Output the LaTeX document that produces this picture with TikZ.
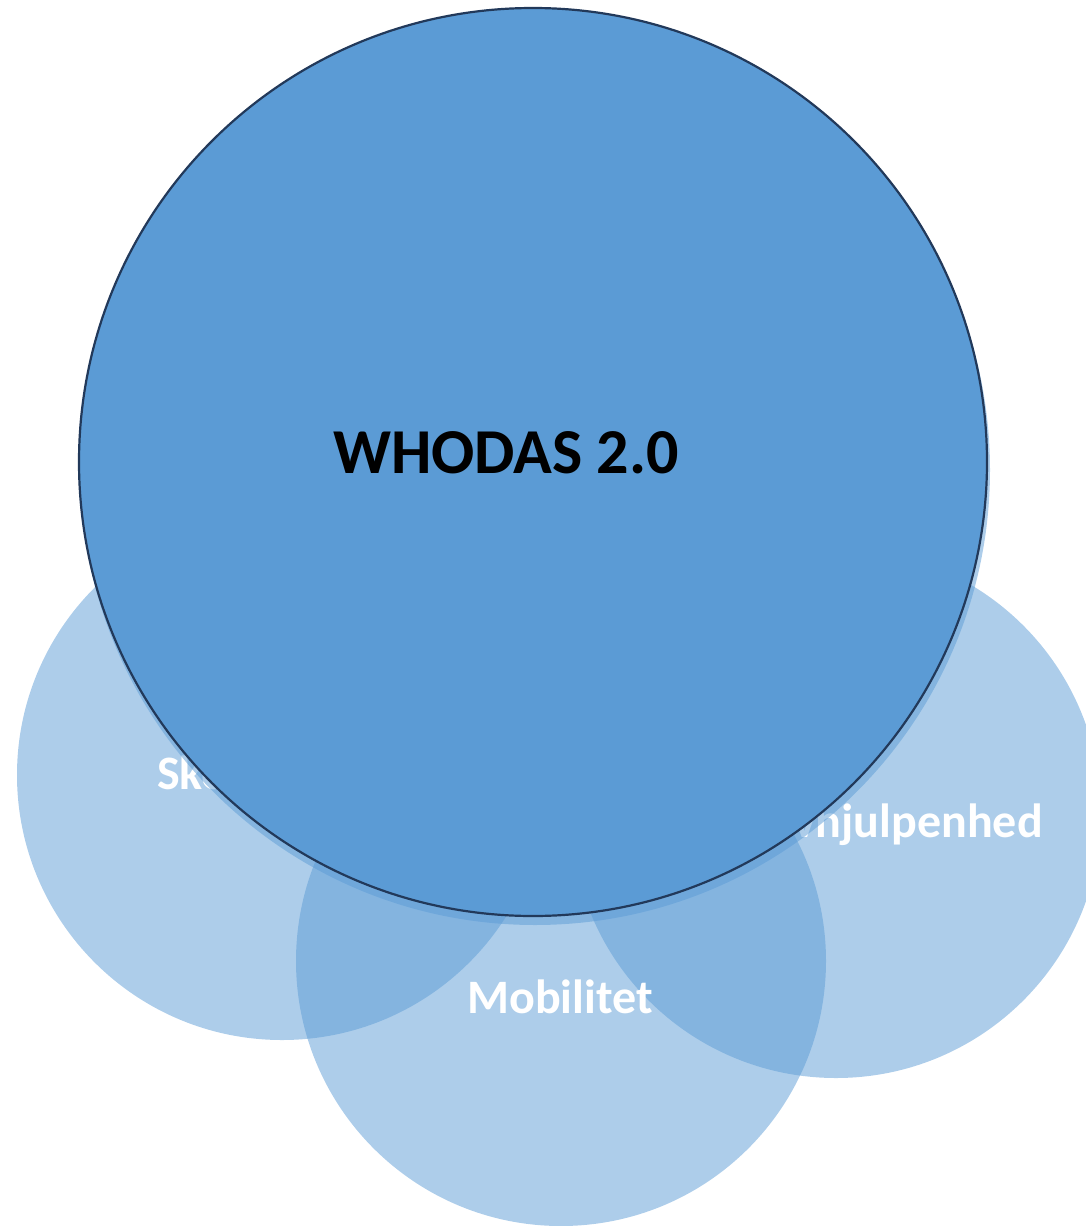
\documentclass[tikz,border=0pt]{standalone}
\usepackage{fontspec}
\setmainfont{Carlito}
\definecolor{accent}{HTML}{5B9BD5}
\definecolor{rimline}{HTML}{22395A}
\begin{document}
\begin{tikzpicture}[x=1pt,y=-1pt,
  small/.style={circle, fill=accent, fill opacity=0.5, minimum size=530pt, inner sep=0pt},
  lab/.style={text=white, font=\bfseries\fontsize{48}{50}\selectfont, inner sep=0pt},
  shadowc/.style={circle, fill=accent, fill opacity=0.5, minimum size=910pt, inner sep=0pt},
  bigc/.style={circle, fill=accent, draw=rimline, line width=2.2pt, minimum size=908pt, inner sep=0pt}]
\clip (0,0) rectangle (1086,1226);
\node[small] (left) at (282,775) {};
\node[small] (right) at (836,813) {};
\node[small] (bottom) at (561,961) {};
\node[lab, anchor=base west] (ltext) at (157,789) {Skole};
\node[lab, anchor=base east] (rtext) at (1043,837) {Selvhjulpenhed};
\node[shadowc] (under) at (535,470) {};
\node[bigc] (who) at (533,462) {};
\node[lab, anchor=base] (btext) at (560,1013) {Mobilitet};
\node[font=\bfseries\fontsize{64}{68}\selectfont, inner sep=0pt, anchor=base] (wtext) at (506,473) {WHODAS 2.0};
\end{tikzpicture}
\end{document}
